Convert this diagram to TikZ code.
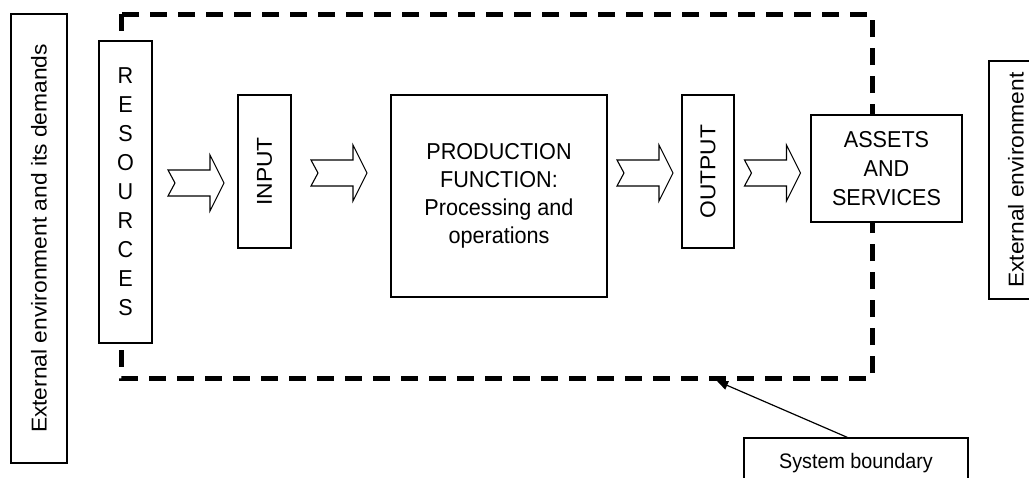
\documentclass[tikz,border=0pt]{standalone}
\usepackage{fontspec}
\setmainfont{Liberation Sans}
\newfontfamily\hfont[FakeStretch=0.94]{Liberation Sans}
\newfontfamily\vfont[FakeStretch=1.06]{Liberation Sans}
\usetikzlibrary{arrows.meta,calc}
\tikzset{
  box/.style={draw, line width=1.2pt, fill=white, inner sep=0pt, align=center,
    font=\hfont\fontsize{23}{29}\selectfont},
  vbox/.style={box, rotate=90, font=\vfont\fontsize{21.5}{29}\selectfont},
  boundary/.style={line width=5pt, dash pattern=on 17pt off 11pt},
  pointer/.style={line width=1.2pt, -{Triangle[length=11pt,width=9pt]}},
  blockarrow/.pic={
    \draw[line width=1.1pt, fill=white, line join=miter]
      (-28,-13) -- (14,-13) -- (14,-28) -- (28,0) -- (14,28) -- (14,13)
      -- (-28,13) -- (-21,0) -- cycle;
  }
}
\begin{document}
\begin{tikzpicture}[x=1pt,y=-1pt]
\useasboundingbox (0,0) rectangle (1029,477);
\clip (0,0) rectangle (1029,477);

% system boundary (drawn first, boxes sit on top of it)
\draw[boundary] (121,14) rectangle (872,378);

% environment on both sides
\node[vbox, minimum width=449pt, minimum height=56pt] (envL) at (39,238.5)
  {External environment and its demands};
\node[vbox, minimum width=238pt, minimum height=54pt] (envR) at (1016,180)
  {External environment};

% main chain
\node[box, minimum width=53pt, minimum height=302pt] (res) at (125.5,192)
  {R\\E\\S\\O\\U\\R\\C\\E\\S};
\node[vbox, minimum width=153pt, minimum height=53pt] (in) at (264.5,171.5) {INPUT};
\node[box, minimum width=216pt, minimum height=202pt,
      font=\hfont\fontsize{23}{28}\selectfont] (prod) at (499,196)
  {PRODUCTION\\FUNCTION:\\Processing and\\operations};
\node[vbox, minimum width=153pt, minimum height=52pt] (out) at (708,171.5) {OUTPUT};
\node[box, minimum width=151pt, minimum height=107pt] (assets) at (886.5,168.5)
  {ASSETS\\AND\\SERVICES};

% flow arrows
\pic at (196,183) {blockarrow};
\pic at (339,173) {blockarrow};
\pic at (645,173) {blockarrow};
\pic at (772.5,173) {blockarrow};

% boundary label
\node[box, minimum width=224pt, minimum height=50pt, font=\hfont\fontsize{21}{24}\selectfont]
  (sysb) at (856,463) {System boundary};
\coordinate (bnd) at (717,381);
\draw[pointer] ($(sysb.north west)+(104,0)$) -- (bnd);
\end{tikzpicture}
\end{document}
